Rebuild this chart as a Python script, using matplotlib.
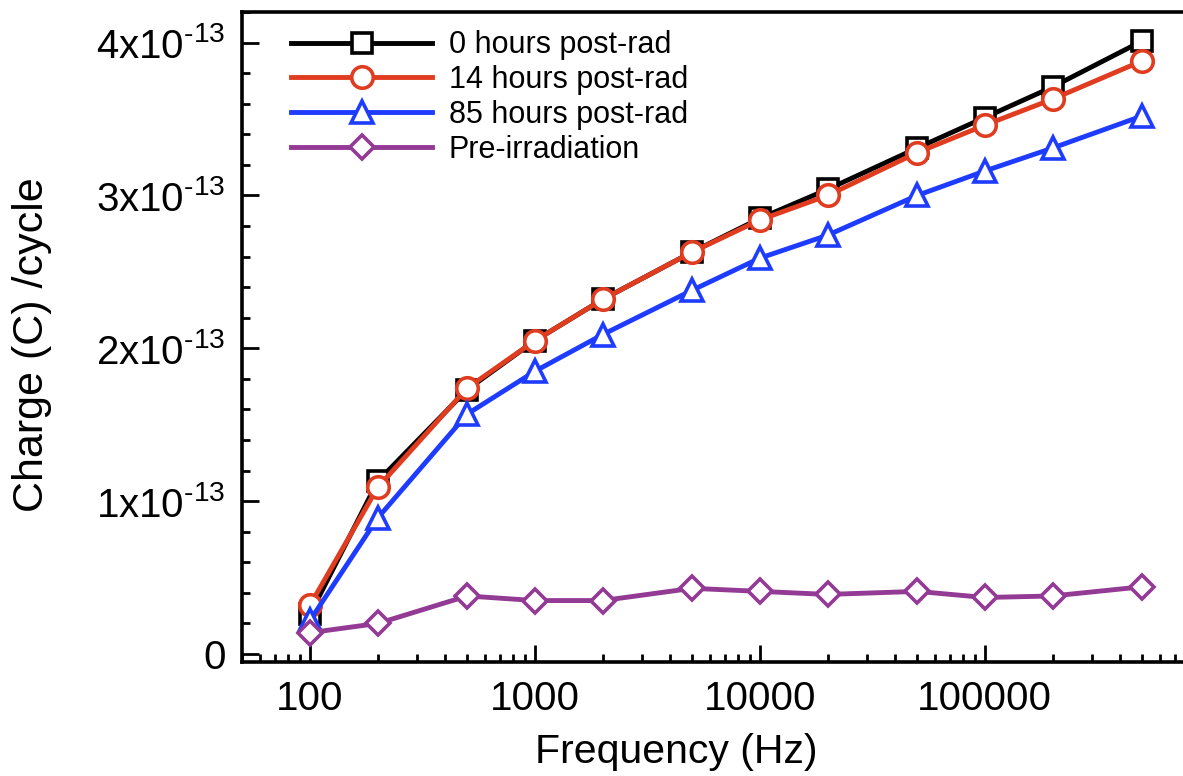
import numpy as np
import matplotlib
matplotlib.use("Agg")
import matplotlib.pyplot as plt
from matplotlib.ticker import FixedLocator, LogLocator, MultipleLocator, NullFormatter

plt.rcParams['font.family'] = ['Liberation Sans', 'DejaVu Sans']
plt.rcParams['mathtext.fontset'] = 'custom'
plt.rcParams['mathtext.rm'] = 'Liberation Sans'

# ── Data ─────────────────────────────────────────────────────────────────────
freq = [100, 200, 500, 1000, 2000, 5000, 10000, 20000, 50000, 100000, 200000, 500000]

q_0h = np.array([0.26, 1.13, 1.73, 2.05, 2.32, 2.63, 2.85, 3.04, 3.31, 3.51, 3.71, 4.01]) * 1e-13
q_14h = np.array([0.32, 1.09, 1.74, 2.05, 2.32, 2.63, 2.84, 3.00, 3.28, 3.46, 3.63, 3.88]) * 1e-13
q_85h = np.array([0.22, 0.89, 1.57, 1.85, 2.09, 2.38, 2.59, 2.74, 3.00, 3.16, 3.31, 3.52]) * 1e-13
q_pre = np.array([0.14, 0.20, 0.38, 0.35, 0.35, 0.43, 0.41, 0.39, 0.41, 0.37, 0.38, 0.44]) * 1e-13

labels = ['0 hours post-rad', '14 hours post-rad', '85 hours post-rad', 'Pre-irradiation']
colors = ['#000000', '#e03c1f', '#1e3cff', '#933a94']
markers = ['s', 'o', '^', 'D']
msizes = [14, 15.5, 15.5, 12.5]

xtick_vals = [100, 1000, 10000, 100000]
xtick_labels = ['100', '1000', '10000', '100000']
ytick_vals = [0, 1e-13, 2e-13, 3e-13, 4e-13]
ytick_labels = ['0'] + [r'$\mathregular{%dx10^{\text{-}13}}$' % k for k in range(1, 5)]

# ── Figure ───────────────────────────────────────────────────────────────────
fig = plt.figure(figsize=(11.83, 7.76), dpi=100)
ax = fig.add_axes([0.2048, 0.1469, 0.7994, 0.8376])

for y, lab, c, m, ms in zip([q_0h, q_14h, q_85h, q_pre], labels, colors, markers, msizes):
    ax.plot(freq, y, color=c, lw=3.5, marker=m, ms=ms, mfc='white', mec=c, mew=2.6,
            label=lab, clip_on=False)

ax.set_xscale('log')
ax.set_xlim(50, 800000)
ax.set_ylim(-0.052e-13, 4.20e-13)

ax.xaxis.set_major_locator(FixedLocator(xtick_vals))
ax.set_xticklabels(xtick_labels)
ax.xaxis.set_minor_locator(LogLocator(base=10, subs=np.arange(2, 10)))
ax.xaxis.set_minor_formatter(NullFormatter())

ax.yaxis.set_major_locator(FixedLocator(ytick_vals))
ax.set_yticklabels(ytick_labels)
ax.yaxis.set_minor_locator(MultipleLocator(0.2e-13))

ax.tick_params(which='both', direction='in', width=2, labelsize=29, top=False, right=False)
ax.tick_params(which='major', length=12)
ax.tick_params(which='minor', length=6)
ax.tick_params(axis='x', pad=13)
ax.tick_params(axis='y', pad=12)

for s in ax.spines.values():
    s.set_linewidth(2.6)

ax.set_xlabel('Frequency (Hz)', fontsize=29.5)
ax.set_ylabel('Charge (C) /cycle', fontsize=31)
ax.xaxis.set_label_coords(0.4586, -0.109)
ax.yaxis.set_label_coords(-0.201, 0.488)

ax.legend(loc='upper left', bbox_to_anchor=(0.052, 0.972), frameon=False, fontsize=22,
          handlelength=4.6, handletextpad=0.55, labelspacing=0.16, borderpad=0, borderaxespad=0)

plt.savefig('out.png', dpi=100)
